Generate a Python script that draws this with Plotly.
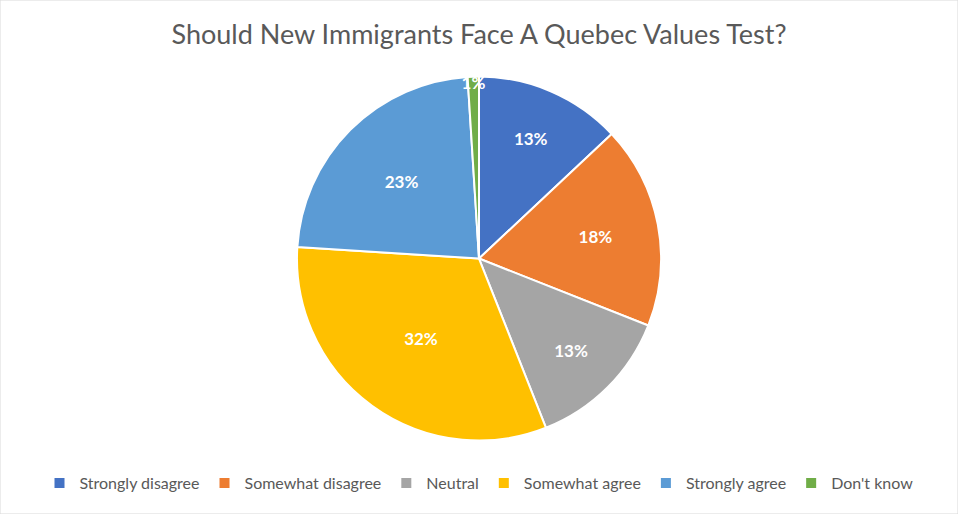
import plotly.graph_objects as go

# Survey answers
labels = ["Strongly disagree", "Somewhat disagree", "Neutral",
          "Somewhat agree", "Strongly agree", "Don't know"]
shares = [13, 18, 13, 32, 23, 1]
colors = ["#4472C4", "#ED7D31", "#A5A5A5", "#FFC000", "#5B9BD5", "#70AD47"]

fig = go.Figure(go.Pie(
    labels=labels,
    values=shares,
    sort=False,
    direction="clockwise",
    rotation=0,
    marker=dict(colors=colors, line=dict(color="white", width=2)),
    texttemplate="%{percent:.0%}",
    textposition="inside",
    insidetextorientation="horizontal",
    textfont=dict(family="Lato", size=17, color="white", weight="bold"),
    domain=dict(x=[0.31, 0.69], y=[0.142, 0.852]),
    hoverinfo="label+percent",
))

fig.update_layout(
    width=958, height=514,
    margin=dict(l=0, r=0, t=0, b=0),
    paper_bgcolor="white",
    title=dict(text="Should New Immigrants Face A Quebec Values Test?",
               x=0.5, xanchor="center", y=0.932, yanchor="middle",
               font=dict(family="Lato", size=27, color="#595959")),
    legend=dict(orientation="h", x=0.5, xanchor="center", y=0.06, yanchor="middle",
                font=dict(family="Lato", size=16, color="#595959"),
                itemwidth=30, traceorder="normal"),
    uniformtext=dict(minsize=17, mode="show"),
    shapes=[dict(type="rect", xref="paper", yref="paper", x0=0, y0=0, x1=1, y1=1,
                 line=dict(color="#D9D9D9", width=1))],
)

# drop the page's default body margin so the chart sits at the window corner
fig.write_html("out.html", config={"displayModeBar": False},
               post_script="document.body.style.margin='0';")
